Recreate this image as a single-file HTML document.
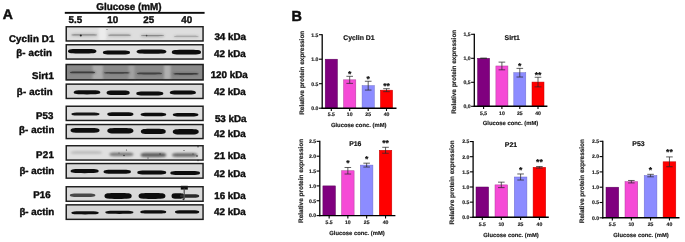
<!DOCTYPE html>
<html><head><meta charset="utf-8"><style>
html,body{margin:0;padding:0;background:#fff;}
svg{display:block;font-family:"Liberation Sans", sans-serif;text-rendering:geometricPrecision;}
</style></head><body>
<svg width="685" height="242" viewBox="0 0 685 242">
<defs><filter id="gb" filterUnits="userSpaceOnUse" x="0" y="0" width="685" height="242"><feGaussianBlur stdDeviation="0.35"/></filter><filter id="b3" filterUnits="userSpaceOnUse" x="0" y="0" width="685" height="242"><feGaussianBlur stdDeviation="0.3"/></filter><filter id="b4" filterUnits="userSpaceOnUse" x="0" y="0" width="685" height="242"><feGaussianBlur stdDeviation="0.4"/></filter><filter id="b5" filterUnits="userSpaceOnUse" x="0" y="0" width="685" height="242"><feGaussianBlur stdDeviation="0.5"/></filter><filter id="b6" filterUnits="userSpaceOnUse" x="0" y="0" width="685" height="242"><feGaussianBlur stdDeviation="0.6"/></filter><filter id="b7" filterUnits="userSpaceOnUse" x="0" y="0" width="685" height="242"><feGaussianBlur stdDeviation="0.7"/></filter><filter id="b8" filterUnits="userSpaceOnUse" x="0" y="0" width="685" height="242"><feGaussianBlur stdDeviation="0.8"/></filter><filter id="b9" filterUnits="userSpaceOnUse" x="0" y="0" width="685" height="242"><feGaussianBlur stdDeviation="0.9"/></filter><filter id="b10" filterUnits="userSpaceOnUse" x="0" y="0" width="685" height="242"><feGaussianBlur stdDeviation="1.0"/></filter></defs>
<rect width="685" height="242" fill="#fff"/>
<g filter="url(#gb)">
<text x="2.80" y="19.20" font-size="14.0" text-anchor="start" font-weight="bold" fill="#111"  stroke="#111" stroke-width="0.5">A</text>
<text x="129.00" y="9.60" font-size="9.9" text-anchor="middle" font-weight="bold" fill="#111"  stroke="#111" stroke-width="0.4">Glucose (mM)</text>
<rect x="64.8" y="11.9" width="139.8" height="1.9" fill="#111"/>
<text x="75.30" y="23.20" font-size="9.8" text-anchor="middle" font-weight="bold" fill="#111"  stroke="#111" stroke-width="0.4">5.5</text>
<text x="112.80" y="23.20" font-size="9.8" text-anchor="middle" font-weight="bold" fill="#111"  stroke="#111" stroke-width="0.4">10</text>
<text x="148.70" y="23.20" font-size="9.8" text-anchor="middle" font-weight="bold" fill="#111"  stroke="#111" stroke-width="0.4">25</text>
<text x="186.70" y="23.20" font-size="9.8" text-anchor="middle" font-weight="bold" fill="#111"  stroke="#111" stroke-width="0.4">40</text>
<rect x="65.50" y="26.00" width="138.30" height="15.70" fill="#dedede"/>
<rect x="98.70" y="27.00" width="7.30" height="13.70" fill="#ececec" filter="url(#b8)"/>
<path d="M70.80,35.00 C70.80,33.30 74.02,33.30 84.20,33.30 C94.38,33.30 97.60,33.30 97.60,35.00 C97.60,36.70 94.38,36.70 84.20,36.70 C74.02,36.70 70.80,36.70 70.80,35.00 Z" fill="#c0c0c0" filter="url(#b10)"/>
<path d="M107.60,35.30 C107.60,33.60 110.44,33.60 119.45,33.60 C128.46,33.60 131.30,33.60 131.30,35.30 C131.30,37.00 128.46,37.00 119.45,37.00 C110.44,37.00 107.60,37.00 107.60,35.30 Z" fill="#c2c2c2" filter="url(#b10)"/>
<path d="M140.30,35.70 C140.30,33.90 143.20,33.90 152.40,33.90 C161.60,33.90 164.50,33.90 164.50,35.70 C164.50,37.50 161.60,37.50 152.40,37.50 C143.20,37.50 140.30,37.50 140.30,35.70 Z" fill="#bcbcbc" filter="url(#b10)"/>
<path d="M173.40,36.40 C173.40,34.70 176.50,34.70 186.30,34.70 C196.10,34.70 199.20,34.70 199.20,36.40 C199.20,38.10 196.10,38.10 186.30,38.10 C176.50,38.10 173.40,38.10 173.40,36.40 Z" fill="#c8c8c8" filter="url(#b10)"/>
<path d="M71.50,34.90 C71.50,34.30 74.56,34.30 84.25,34.30 C93.94,34.30 97.00,34.30 97.00,34.90 C97.00,35.50 93.94,35.50 84.25,35.50 C74.56,35.50 71.50,35.50 71.50,34.90 Z" fill="#8c8c8c" filter="url(#b5)"/>
<path d="M108.20,35.20 C108.20,34.60 110.91,34.60 119.50,34.60 C128.09,34.60 130.80,34.60 130.80,35.20 C130.80,35.80 128.09,35.80 119.50,35.80 C110.91,35.80 108.20,35.80 108.20,35.20 Z" fill="#909090" filter="url(#b5)"/>
<path d="M141.00,35.60 C141.00,34.95 143.76,34.95 152.50,34.95 C161.24,34.95 164.00,34.95 164.00,35.60 C164.00,36.25 161.24,36.25 152.50,36.25 C143.76,36.25 141.00,36.25 141.00,35.60 Z" fill="#8a8a8a" filter="url(#b5)"/>
<path d="M174.00,36.30 C174.00,35.75 176.94,35.75 186.25,35.75 C195.56,35.75 198.50,35.75 198.50,36.30 C198.50,36.85 195.56,36.85 186.25,36.85 C176.94,36.85 174.00,36.85 174.00,36.30 Z" fill="#a0a0a0" filter="url(#b5)"/>
<circle cx="80.8" cy="35.5" r="1.0" fill="#222" filter="url(#b4)"/>
<circle cx="146.6" cy="35.6" r="0.8" fill="#444" filter="url(#b4)"/>
<circle cx="107.0" cy="29.5" r="0.6" fill="#666" filter="url(#b4)"/>
<rect x="66.25" y="26.75" width="136.80" height="14.20" fill="none" stroke="#1e1e1e" stroke-width="1.45" filter="url(#b3)"/>
<text x="8.90" y="41.70" font-size="9.7" text-anchor="start" font-weight="bold" fill="#0a0a0a" textLength="45.50" lengthAdjust="spacing" stroke="#0a0a0a" stroke-width="0.4">Cyclin D1</text>
<text x="230.20" y="39.70" font-size="9.8" text-anchor="middle" font-weight="bold" fill="#0a0a0a"  stroke="#0a0a0a" stroke-width="0.4">34 kDa</text>
<rect x="65.50" y="44.00" width="138.30" height="15.80" fill="#e0e0e0"/>
<path d="M68.00,51.30 C68.00,49.10 71.41,49.10 82.20,49.10 C92.99,49.10 96.40,49.10 96.40,51.30 C96.40,53.50 92.99,53.50 82.20,53.50 C71.41,53.50 68.00,53.50 68.00,51.30 Z" fill="#0d0d0d" filter="url(#b4)"/>
<path d="M102.90,52.50 C102.90,50.50 106.15,50.50 116.45,50.50 C126.75,50.50 130.00,50.50 130.00,52.50 C130.00,54.50 126.75,54.50 116.45,54.50 C106.15,54.50 102.90,54.50 102.90,52.50 Z" fill="#0d0d0d" filter="url(#b4)"/>
<path d="M136.60,51.60 C136.60,49.40 140.18,49.40 151.50,49.40 C162.82,49.40 166.40,49.40 166.40,51.60 C166.40,53.80 162.82,53.80 151.50,53.80 C140.18,53.80 136.60,53.80 136.60,51.60 Z" fill="#0d0d0d" filter="url(#b4)"/>
<path d="M171.80,52.20 C171.80,49.80 175.30,49.80 186.40,49.80 C197.50,49.80 201.00,49.80 201.00,52.20 C201.00,54.60 197.50,54.60 186.40,54.60 C175.30,54.60 171.80,54.60 171.80,52.20 Z" fill="#0d0d0d" filter="url(#b4)"/>
<rect x="66.25" y="44.75" width="136.80" height="14.30" fill="none" stroke="#1e1e1e" stroke-width="1.45" filter="url(#b3)"/>
<text x="16.20" y="55.90" font-size="9.7" text-anchor="start" font-weight="bold" fill="#0a0a0a" textLength="35.80" lengthAdjust="spacing" stroke="#0a0a0a" stroke-width="0.4">β- actin</text>
<text x="229.90" y="57.40" font-size="9.8" text-anchor="middle" font-weight="bold" fill="#0a0a0a"  stroke="#0a0a0a" stroke-width="0.4">42 kDa</text>
<rect x="65.50" y="63.80" width="138.30" height="16.80" fill="#8a8a8a"/>
<rect x="92.50" y="64.80" width="10.50" height="14.80" fill="#acacac" filter="url(#b8)"/>
<rect x="128.50" y="64.80" width="6.00" height="14.80" fill="#a2a2a2" filter="url(#b8)"/>
<rect x="164.00" y="64.80" width="6.70" height="14.80" fill="#b0b0b0" filter="url(#b8)"/>
<path d="M68.50,72.40 C68.50,70.70 71.80,70.70 82.25,70.70 C92.70,70.70 96.00,70.70 96.00,72.40 C96.00,74.10 92.70,74.10 82.25,74.10 C71.80,74.10 68.50,74.10 68.50,72.40 Z" fill="#7a7a7a" filter="url(#b9)"/>
<path d="M102.50,72.80 C102.50,71.10 105.86,71.10 116.50,71.10 C127.14,71.10 130.50,71.10 130.50,72.80 C130.50,74.50 127.14,74.50 116.50,74.50 C105.86,74.50 102.50,74.50 102.50,72.80 Z" fill="#7e7e7e" filter="url(#b9)"/>
<path d="M135.80,73.50 C135.80,71.80 139.04,71.80 149.30,71.80 C159.56,71.80 162.80,71.80 162.80,73.50 C162.80,75.20 159.56,75.20 149.30,75.20 C139.04,75.20 135.80,75.20 135.80,73.50 Z" fill="#7c7c7c" filter="url(#b9)"/>
<path d="M172.00,73.80 C172.00,72.10 175.24,72.10 185.50,72.10 C195.76,72.10 199.00,72.10 199.00,73.80 C199.00,75.50 195.76,75.50 185.50,75.50 C175.24,75.50 172.00,75.50 172.00,73.80 Z" fill="#767676" filter="url(#b9)"/>
<path d="M70.00,72.40 C70.00,71.50 73.00,71.50 82.50,71.50 C92.00,71.50 95.00,71.50 95.00,72.40 C95.00,73.30 92.00,73.30 82.50,73.30 C73.00,73.30 70.00,73.30 70.00,72.40 Z" fill="#3e3e3e" filter="url(#b6)"/>
<path d="M104.00,72.80 C104.00,71.90 107.06,71.90 116.75,71.90 C126.44,71.90 129.50,71.90 129.50,72.80 C129.50,73.70 126.44,73.70 116.75,73.70 C107.06,73.70 104.00,73.70 104.00,72.80 Z" fill="#444444" filter="url(#b6)"/>
<path d="M137.00,73.50 C137.00,72.60 140.00,72.60 149.50,72.60 C159.00,72.60 162.00,72.60 162.00,73.50 C162.00,74.40 159.00,74.40 149.50,74.40 C140.00,74.40 137.00,74.40 137.00,73.50 Z" fill="#424242" filter="url(#b6)"/>
<path d="M173.50,73.80 C173.50,72.90 176.50,72.90 186.00,72.90 C195.50,72.90 198.50,72.90 198.50,73.80 C198.50,74.70 195.50,74.70 186.00,74.70 C176.50,74.70 173.50,74.70 173.50,73.80 Z" fill="#3a3a3a" filter="url(#b6)"/>
<rect x="66.25" y="64.55" width="136.80" height="15.30" fill="none" stroke="#1e1e1e" stroke-width="1.45" filter="url(#b3)"/>
<text x="32.00" y="79.00" font-size="9.7" text-anchor="start" font-weight="bold" fill="#0a0a0a" textLength="21.80" lengthAdjust="spacing" stroke="#0a0a0a" stroke-width="0.4">Sirt1</text>
<text x="229.20" y="77.60" font-size="9.8" text-anchor="middle" font-weight="bold" fill="#0a0a0a"  stroke="#0a0a0a" stroke-width="0.4">120 kDa</text>
<rect x="65.50" y="83.40" width="138.30" height="15.80" fill="#d9d9d9"/>
<path d="M73.70,92.30 C73.70,90.20 76.89,90.20 87.00,90.20 C97.11,90.20 100.30,90.20 100.30,92.30 C100.30,94.40 97.11,94.40 87.00,94.40 C76.89,94.40 73.70,94.40 73.70,92.30 Z" fill="#0d0d0d" filter="url(#b4)"/>
<path d="M106.60,92.70 C106.60,90.40 109.37,90.40 118.15,90.40 C126.93,90.40 129.70,90.40 129.70,92.70 C129.70,95.00 126.93,95.00 118.15,95.00 C109.37,95.00 106.60,95.00 106.60,92.70 Z" fill="#0d0d0d" filter="url(#b4)"/>
<path d="M136.30,93.50 C136.30,91.50 139.54,91.50 149.80,91.50 C160.06,91.50 163.30,91.50 163.30,93.50 C163.30,95.50 160.06,95.50 149.80,95.50 C139.54,95.50 136.30,95.50 136.30,93.50 Z" fill="#0d0d0d" filter="url(#b4)"/>
<path d="M169.80,92.50 C169.80,90.40 172.93,90.40 182.85,90.40 C192.77,90.40 195.90,90.40 195.90,92.50 C195.90,94.60 192.77,94.60 182.85,94.60 C172.93,94.60 169.80,94.60 169.80,92.50 Z" fill="#0d0d0d" filter="url(#b4)"/>
<rect x="66.25" y="84.15" width="136.80" height="14.30" fill="none" stroke="#1e1e1e" stroke-width="1.45" filter="url(#b3)"/>
<text x="16.80" y="95.30" font-size="9.7" text-anchor="start" font-weight="bold" fill="#0a0a0a" textLength="35.90" lengthAdjust="spacing" stroke="#0a0a0a" stroke-width="0.4">β- actin</text>
<text x="229.90" y="94.60" font-size="9.8" text-anchor="middle" font-weight="bold" fill="#0a0a0a"  stroke="#0a0a0a" stroke-width="0.4">42 kDa</text>
<rect x="65.50" y="105.50" width="138.30" height="15.70" fill="#dfdfdf"/>
<path d="M71.40,114.00 C71.40,112.40 74.77,112.40 85.45,112.40 C96.13,112.40 99.50,112.40 99.50,114.00 C99.50,115.60 96.13,115.60 85.45,115.60 C74.77,115.60 71.40,115.60 71.40,114.00 Z" fill="#151515" filter="url(#b4)"/>
<path d="M107.30,114.20 C107.30,112.30 110.43,112.30 120.35,112.30 C130.27,112.30 133.40,112.30 133.40,114.20 C133.40,116.10 130.27,116.10 120.35,116.10 C110.43,116.10 107.30,116.10 107.30,114.20 Z" fill="#0d0d0d" filter="url(#b4)"/>
<path d="M140.60,114.50 C140.60,112.75 143.67,112.75 153.40,112.75 C163.13,112.75 166.20,112.75 166.20,114.50 C166.20,116.25 163.13,116.25 153.40,116.25 C143.67,116.25 140.60,116.25 140.60,114.50 Z" fill="#0d0d0d" filter="url(#b4)"/>
<path d="M172.80,114.70 C172.80,112.90 175.87,112.90 185.60,112.90 C195.33,112.90 198.40,112.90 198.40,114.70 C198.40,116.50 195.33,116.50 185.60,116.50 C175.87,116.50 172.80,116.50 172.80,114.70 Z" fill="#0d0d0d" filter="url(#b4)"/>
<rect x="66.25" y="106.25" width="136.80" height="14.20" fill="none" stroke="#1e1e1e" stroke-width="1.45" filter="url(#b3)"/>
<text x="36.00" y="119.00" font-size="9.7" text-anchor="start" font-weight="bold" fill="#0a0a0a" textLength="17.40" lengthAdjust="spacing" stroke="#0a0a0a" stroke-width="0.4">P53</text>
<text x="230.70" y="121.90" font-size="9.8" text-anchor="middle" font-weight="bold" fill="#0a0a0a"  stroke="#0a0a0a" stroke-width="0.4">53 kDa</text>
<rect x="65.50" y="123.80" width="138.30" height="15.50" fill="#d8d8d8"/>
<path d="M70.60,130.40 C70.60,128.10 74.07,128.10 85.05,128.10 C96.03,128.10 99.50,128.10 99.50,130.40 C99.50,132.70 96.03,132.70 85.05,132.70 C74.07,132.70 70.60,132.70 70.60,130.40 Z" fill="#0d0d0d" filter="url(#b4)"/>
<path d="M107.30,130.70 C107.30,127.90 110.43,127.90 120.35,127.90 C130.27,127.90 133.40,127.90 133.40,130.70 C133.40,133.50 130.27,133.50 120.35,133.50 C110.43,133.50 107.30,133.50 107.30,130.70 Z" fill="#0d0d0d" filter="url(#b4)"/>
<path d="M140.90,131.40 C140.90,128.70 143.88,128.70 153.30,128.70 C162.72,128.70 165.70,128.70 165.70,131.40 C165.70,134.10 162.72,134.10 153.30,134.10 C143.88,134.10 140.90,134.10 140.90,131.40 Z" fill="#0d0d0d" filter="url(#b4)"/>
<path d="M172.80,131.80 C172.80,129.00 175.91,129.00 185.75,129.00 C195.59,129.00 198.70,129.00 198.70,131.80 C198.70,134.60 195.59,134.60 185.75,134.60 C175.91,134.60 172.80,134.60 172.80,131.80 Z" fill="#0d0d0d" filter="url(#b4)"/>
<rect x="66.25" y="124.55" width="136.80" height="14.00" fill="none" stroke="#1e1e1e" stroke-width="1.45" filter="url(#b3)"/>
<text x="19.00" y="132.60" font-size="9.7" text-anchor="start" font-weight="bold" fill="#0a0a0a" textLength="35.30" lengthAdjust="spacing" stroke="#0a0a0a" stroke-width="0.4">β- actin</text>
<text x="229.90" y="136.60" font-size="9.8" text-anchor="middle" font-weight="bold" fill="#0a0a0a"  stroke="#0a0a0a" stroke-width="0.4">42 kDa</text>
<rect x="65.50" y="145.00" width="138.30" height="15.80" fill="#e0e0e0"/>
<path d="M70.60,152.50 C70.60,150.90 74.37,150.90 86.30,150.90 C98.23,150.90 102.00,150.90 102.00,152.50 C102.00,154.10 98.23,154.10 86.30,154.10 C74.37,154.10 70.60,154.10 70.60,152.50 Z" fill="#bdbdbd" filter="url(#b9)"/>
<path d="M109.40,154.40 C109.40,152.60 112.28,152.60 121.40,152.60 C130.52,152.60 133.40,152.60 133.40,154.40 C133.40,156.20 130.52,156.20 121.40,156.20 C112.28,156.20 109.40,156.20 109.40,154.40 Z" fill="#7c7c7c" filter="url(#b8)"/>
<path d="M140.60,155.00 C140.60,152.80 143.67,152.80 153.40,152.80 C163.13,152.80 166.20,152.80 166.20,155.00 C166.20,157.20 163.13,157.20 153.40,157.20 C143.67,157.20 140.60,157.20 140.60,155.00 Z" fill="#646464" filter="url(#b8)"/>
<path d="M172.00,155.00 C172.00,152.90 175.06,152.90 184.75,152.90 C194.44,152.90 197.50,152.90 197.50,155.00 C197.50,157.10 194.44,157.10 184.75,157.10 C175.06,157.10 172.00,157.10 172.00,155.00 Z" fill="#6e6e6e" filter="url(#b8)"/>
<circle cx="124.0" cy="155.5" r="0.8" fill="#333" filter="url(#b4)"/>
<circle cx="126.5" cy="150.0" r="0.6" fill="#444" filter="url(#b4)"/>
<circle cx="119.0" cy="153.0" r="0.6" fill="#444" filter="url(#b4)"/>
<circle cx="160.0" cy="154.0" r="0.7" fill="#333" filter="url(#b4)"/>
<circle cx="197.0" cy="156.0" r="0.8" fill="#222" filter="url(#b4)"/>
<circle cx="184.0" cy="150.5" r="0.6" fill="#444" filter="url(#b4)"/>
<circle cx="193.0" cy="154.0" r="0.6" fill="#333" filter="url(#b4)"/>
<circle cx="148.0" cy="158.0" r="0.6" fill="#333" filter="url(#b4)"/>
<circle cx="198.0" cy="146.8" r="0.7" fill="#333" filter="url(#b4)"/>
<circle cx="198.0" cy="160.5" r="0.7" fill="#333" filter="url(#b4)"/>
<rect x="66.25" y="145.75" width="136.80" height="14.30" fill="none" stroke="#1e1e1e" stroke-width="1.45" filter="url(#b3)"/>
<text x="36.00" y="158.00" font-size="9.7" text-anchor="start" font-weight="bold" fill="#0a0a0a" textLength="17.80" lengthAdjust="spacing" stroke="#0a0a0a" stroke-width="0.4">P21</text>
<text x="230.00" y="158.50" font-size="9.8" text-anchor="middle" font-weight="bold" fill="#0a0a0a"  stroke="#0a0a0a" stroke-width="0.4">21 kDa</text>
<rect x="65.50" y="162.80" width="138.30" height="16.10" fill="#d9d9d9"/>
<path d="M70.60,171.10 C70.60,169.00 73.97,169.00 84.65,169.00 C95.33,169.00 98.70,169.00 98.70,171.10 C98.70,173.20 95.33,173.20 84.65,173.20 C73.97,173.20 70.60,173.20 70.60,171.10 Z" fill="#0d0d0d" filter="url(#b4)"/>
<path d="M103.60,171.70 C103.60,169.70 106.88,169.70 117.25,169.70 C127.62,169.70 130.90,169.70 130.90,171.70 C130.90,173.70 127.62,173.70 117.25,173.70 C106.88,173.70 103.60,173.70 103.60,171.70 Z" fill="#0d0d0d" filter="url(#b4)"/>
<path d="M137.30,172.50 C137.30,170.50 140.77,170.50 151.75,170.50 C162.73,170.50 166.20,170.50 166.20,172.50 C166.20,174.50 162.73,174.50 151.75,174.50 C140.77,174.50 137.30,174.50 137.30,172.50 Z" fill="#0d0d0d" filter="url(#b4)"/>
<path d="M170.30,173.00 C170.30,171.00 173.86,171.00 185.15,171.00 C196.44,171.00 200.00,171.00 200.00,173.00 C200.00,175.00 196.44,175.00 185.15,175.00 C173.86,175.00 170.30,175.00 170.30,173.00 Z" fill="#0d0d0d" filter="url(#b4)"/>
<rect x="66.25" y="163.55" width="136.80" height="14.60" fill="none" stroke="#1e1e1e" stroke-width="1.45" filter="url(#b3)"/>
<text x="19.40" y="174.40" font-size="9.7" text-anchor="start" font-weight="bold" fill="#0a0a0a" textLength="34.70" lengthAdjust="spacing" stroke="#0a0a0a" stroke-width="0.4">β- actin</text>
<text x="229.90" y="176.60" font-size="9.8" text-anchor="middle" font-weight="bold" fill="#0a0a0a"  stroke="#0a0a0a" stroke-width="0.4">42 kDa</text>
<rect x="65.50" y="186.00" width="138.30" height="16.00" fill="#dadada"/>
<path d="M69.80,195.30 C69.80,193.50 72.87,193.50 82.60,193.50 C92.33,193.50 95.40,193.50 95.40,195.30 C95.40,197.10 92.33,197.10 82.60,197.10 C72.87,197.10 69.80,197.10 69.80,195.30 Z" fill="#4a4a4a" filter="url(#b6)"/>
<path d="M104.50,196.00 C104.50,193.10 107.76,193.10 118.10,193.10 C128.44,193.10 131.70,193.10 131.70,196.00 C131.70,198.90 128.44,198.90 118.10,198.90 C107.76,198.90 104.50,198.90 104.50,196.00 Z" fill="#0d0d0d" filter="url(#b4)"/>
<path d="M138.60,196.00 C138.60,193.10 141.82,193.10 152.00,193.10 C162.18,193.10 165.40,193.10 165.40,196.00 C165.40,198.90 162.18,198.90 152.00,198.90 C141.82,198.90 138.60,198.90 138.60,196.00 Z" fill="#0d0d0d" filter="url(#b4)"/>
<path d="M171.60,196.00 C171.60,193.30 173.09,193.30 177.80,193.30 C182.51,193.30 184.00,193.30 184.00,196.00 C184.00,198.70 182.51,198.70 177.80,198.70 C173.09,198.70 171.60,198.70 171.60,196.00 Z" fill="#0d0d0d" filter="url(#b4)"/>
<path d="M180.00,196.00 C180.00,194.20 182.30,194.20 189.60,194.20 C196.90,194.20 199.20,194.20 199.20,196.00 C199.20,197.80 196.90,197.80 189.60,197.80 C182.30,197.80 180.00,197.80 180.00,196.00 Z" fill="#2a2a2a" filter="url(#b6)"/>
<rect x="180.8" y="185.8" width="7.0" height="3.8" fill="#0d0d0d" filter="url(#b5)"/>
<rect x="183.6" y="188.5" width="1.2" height="10.5" fill="#555" filter="url(#b5)"/>
<circle cx="183.5" cy="199.3" r="1.0" fill="#333" filter="url(#b4)"/>
<rect x="66.25" y="186.75" width="136.80" height="14.50" fill="none" stroke="#1e1e1e" stroke-width="1.45" filter="url(#b3)"/>
<text x="33.30" y="197.80" font-size="9.7" text-anchor="start" font-weight="bold" fill="#0a0a0a" textLength="17.40" lengthAdjust="spacing" stroke="#0a0a0a" stroke-width="0.4">P16</text>
<text x="230.00" y="199.20" font-size="9.8" text-anchor="middle" font-weight="bold" fill="#0a0a0a"  stroke="#0a0a0a" stroke-width="0.4">16 kDa</text>
<rect x="65.50" y="204.10" width="138.30" height="16.00" fill="#d6d6d6"/>
<path d="M71.40,212.80 C71.40,211.20 74.68,211.20 85.05,211.20 C95.42,211.20 98.70,211.20 98.70,212.80 C98.70,214.40 95.42,214.40 85.05,214.40 C74.68,214.40 71.40,214.40 71.40,212.80 Z" fill="#0d0d0d" filter="url(#b5)"/>
<path d="M105.30,212.30 C105.30,210.70 108.67,210.70 119.35,210.70 C130.03,210.70 133.40,210.70 133.40,212.30 C133.40,213.90 130.03,213.90 119.35,213.90 C108.67,213.90 105.30,213.90 105.30,212.30 Z" fill="#0d0d0d" filter="url(#b5)"/>
<path d="M140.30,211.90 C140.30,210.35 143.41,210.35 153.25,210.35 C163.09,210.35 166.20,210.35 166.20,211.90 C166.20,213.45 163.09,213.45 153.25,213.45 C143.41,213.45 140.30,213.45 140.30,211.90 Z" fill="#0d0d0d" filter="url(#b5)"/>
<path d="M175.00,211.90 C175.00,210.30 177.90,210.30 187.10,210.30 C196.30,210.30 199.20,210.30 199.20,211.90 C199.20,213.50 196.30,213.50 187.10,213.50 C177.90,213.50 175.00,213.50 175.00,211.90 Z" fill="#0d0d0d" filter="url(#b5)"/>
<rect x="66.25" y="204.85" width="136.80" height="14.50" fill="none" stroke="#1e1e1e" stroke-width="1.45" filter="url(#b3)"/>
<text x="19.40" y="214.60" font-size="9.7" text-anchor="start" font-weight="bold" fill="#0a0a0a" textLength="34.70" lengthAdjust="spacing" stroke="#0a0a0a" stroke-width="0.4">β- actin</text>
<text x="229.90" y="214.70" font-size="9.8" text-anchor="middle" font-weight="bold" fill="#0a0a0a"  stroke="#0a0a0a" stroke-width="0.4">42 kDa</text>
<text x="291.40" y="21.30" font-size="14.4" text-anchor="start" font-weight="bold" fill="#111"  stroke="#111" stroke-width="0.5">B</text>
<line x1="322.20" y1="34.20" x2="322.20" y2="108.90" stroke="#000" stroke-width="1.3"/>
<line x1="319.00" y1="108.20" x2="322.20" y2="108.20" stroke="#000" stroke-width="1.1"/>
<text x="318.40" y="110.00" font-size="5.1" text-anchor="end" font-weight="bold" fill="#222"  stroke="#222" stroke-width="0.18">0.0</text>
<line x1="319.00" y1="83.70" x2="322.20" y2="83.70" stroke="#000" stroke-width="1.1"/>
<text x="318.40" y="85.50" font-size="5.1" text-anchor="end" font-weight="bold" fill="#222"  stroke="#222" stroke-width="0.18">0.5</text>
<line x1="319.00" y1="59.20" x2="322.20" y2="59.20" stroke="#000" stroke-width="1.1"/>
<text x="318.40" y="61.00" font-size="5.1" text-anchor="end" font-weight="bold" fill="#222"  stroke="#222" stroke-width="0.18">1.0</text>
<line x1="319.00" y1="34.70" x2="322.20" y2="34.70" stroke="#000" stroke-width="1.1"/>
<text x="318.40" y="36.50" font-size="5.1" text-anchor="end" font-weight="bold" fill="#222"  stroke="#222" stroke-width="0.18">1.5</text>
<rect x="325.20" y="59.20" width="12.20" height="49.00" fill="#80007f" stroke="#5a0058" stroke-width="0.5"/>
<line x1="331.30" y1="108.20" x2="331.30" y2="111.00" stroke="#000" stroke-width="1.1"/>
<text x="331.30" y="116.40" font-size="5.1" text-anchor="middle" font-weight="bold" fill="#222"  stroke="#222" stroke-width="0.18">5.5</text>
<rect x="343.60" y="79.83" width="12.20" height="28.37" fill="#f54cd6" stroke="#b03a9a" stroke-width="0.5"/>
<line x1="349.70" y1="76.30" x2="349.70" y2="83.36" stroke="#2a2a2a" stroke-width="0.75"/>
<line x1="346.40" y1="76.30" x2="353.00" y2="76.30" stroke="#2a2a2a" stroke-width="0.75"/>
<line x1="346.40" y1="83.36" x2="353.00" y2="83.36" stroke="#2a2a2a" stroke-width="0.75"/>
<text x="349.70" y="76.70" font-size="8.6" text-anchor="middle" font-weight="bold" fill="#111"  stroke="#111" stroke-width="0.18">*</text>
<line x1="349.70" y1="108.20" x2="349.70" y2="111.00" stroke="#000" stroke-width="1.1"/>
<text x="349.70" y="116.40" font-size="5.1" text-anchor="middle" font-weight="bold" fill="#222"  stroke="#222" stroke-width="0.18">10</text>
<rect x="362.10" y="85.66" width="12.20" height="22.54" fill="#8c8cff" stroke="#6a6acc" stroke-width="0.5"/>
<line x1="368.20" y1="81.25" x2="368.20" y2="90.07" stroke="#2a2a2a" stroke-width="0.75"/>
<line x1="364.90" y1="81.25" x2="371.50" y2="81.25" stroke="#2a2a2a" stroke-width="0.75"/>
<line x1="364.90" y1="90.07" x2="371.50" y2="90.07" stroke="#2a2a2a" stroke-width="0.75"/>
<text x="368.20" y="81.65" font-size="8.6" text-anchor="middle" font-weight="bold" fill="#111"  stroke="#111" stroke-width="0.18">*</text>
<line x1="368.20" y1="108.20" x2="368.20" y2="111.00" stroke="#000" stroke-width="1.1"/>
<text x="368.20" y="116.40" font-size="5.1" text-anchor="middle" font-weight="bold" fill="#222"  stroke="#222" stroke-width="0.18">25</text>
<rect x="380.40" y="90.17" width="12.20" height="18.03" fill="#ff0000" stroke="#c00000" stroke-width="0.5"/>
<line x1="386.50" y1="88.70" x2="386.50" y2="91.64" stroke="#2a2a2a" stroke-width="0.75"/>
<line x1="383.20" y1="88.70" x2="389.80" y2="88.70" stroke="#2a2a2a" stroke-width="0.75"/>
<line x1="383.20" y1="91.64" x2="389.80" y2="91.64" stroke="#2a2a2a" stroke-width="0.75"/>
<text x="386.50" y="89.10" font-size="8.6" text-anchor="middle" font-weight="bold" fill="#111"  stroke="#111" stroke-width="0.18">**</text>
<line x1="386.50" y1="108.20" x2="386.50" y2="111.00" stroke="#000" stroke-width="1.1"/>
<text x="386.50" y="116.40" font-size="5.1" text-anchor="middle" font-weight="bold" fill="#222"  stroke="#222" stroke-width="0.18">40</text>
<line x1="321.60" y1="108.20" x2="396.50" y2="108.20" stroke="#000" stroke-width="1.4"/>
<text x="358.90" y="40.20" font-size="6.9" text-anchor="middle" font-weight="bold" fill="#111"  stroke="#111" stroke-width="0.18">Cyclin D1</text>
<text x="358.70" y="127.20" font-size="5.85" text-anchor="middle" font-weight="bold" fill="#222"  stroke="#222" stroke-width="0.18">Glucose conc. (mM)</text>
<text x="0" y="0" font-size="6.45" font-weight="bold" fill="#222" stroke="#222" stroke-width="0.18" text-anchor="middle" transform="translate(304.00,72.80) rotate(-90)">Relative protein expression</text>
<line x1="474.30" y1="33.80" x2="474.30" y2="107.00" stroke="#000" stroke-width="1.3"/>
<line x1="471.10" y1="106.30" x2="474.30" y2="106.30" stroke="#000" stroke-width="1.1"/>
<text x="470.50" y="108.10" font-size="5.1" text-anchor="end" font-weight="bold" fill="#222"  stroke="#222" stroke-width="0.18">0,0</text>
<line x1="471.10" y1="82.30" x2="474.30" y2="82.30" stroke="#000" stroke-width="1.1"/>
<text x="470.50" y="84.10" font-size="5.1" text-anchor="end" font-weight="bold" fill="#222"  stroke="#222" stroke-width="0.18">0,5</text>
<line x1="471.10" y1="58.30" x2="474.30" y2="58.30" stroke="#000" stroke-width="1.1"/>
<text x="470.50" y="60.10" font-size="5.1" text-anchor="end" font-weight="bold" fill="#222"  stroke="#222" stroke-width="0.18">1,0</text>
<line x1="471.10" y1="34.30" x2="474.30" y2="34.30" stroke="#000" stroke-width="1.1"/>
<text x="470.50" y="36.10" font-size="5.1" text-anchor="end" font-weight="bold" fill="#222"  stroke="#222" stroke-width="0.18">1,5</text>
<rect x="477.60" y="58.30" width="12.00" height="48.00" fill="#80007f" stroke="#5a0058" stroke-width="0.5"/>
<line x1="483.60" y1="58.06" x2="483.60" y2="58.54" stroke="#2a2a2a" stroke-width="0.75"/>
<line x1="480.30" y1="58.06" x2="486.90" y2="58.06" stroke="#2a2a2a" stroke-width="0.75"/>
<line x1="480.30" y1="58.54" x2="486.90" y2="58.54" stroke="#2a2a2a" stroke-width="0.75"/>
<line x1="483.60" y1="106.30" x2="483.60" y2="109.10" stroke="#000" stroke-width="1.1"/>
<text x="483.60" y="114.60" font-size="5.1" text-anchor="middle" font-weight="bold" fill="#222"  stroke="#222" stroke-width="0.18">5,5</text>
<rect x="495.90" y="65.98" width="12.00" height="40.32" fill="#f54cd6" stroke="#b03a9a" stroke-width="0.5"/>
<line x1="501.90" y1="62.14" x2="501.90" y2="69.82" stroke="#2a2a2a" stroke-width="0.75"/>
<line x1="498.60" y1="62.14" x2="505.20" y2="62.14" stroke="#2a2a2a" stroke-width="0.75"/>
<line x1="498.60" y1="69.82" x2="505.20" y2="69.82" stroke="#2a2a2a" stroke-width="0.75"/>
<line x1="501.90" y1="106.30" x2="501.90" y2="109.10" stroke="#000" stroke-width="1.1"/>
<text x="501.90" y="114.60" font-size="5.1" text-anchor="middle" font-weight="bold" fill="#222"  stroke="#222" stroke-width="0.18">10</text>
<rect x="513.80" y="72.70" width="12.00" height="33.60" fill="#8c8cff" stroke="#6a6acc" stroke-width="0.5"/>
<line x1="519.80" y1="68.38" x2="519.80" y2="77.02" stroke="#2a2a2a" stroke-width="0.75"/>
<line x1="516.50" y1="68.38" x2="523.10" y2="68.38" stroke="#2a2a2a" stroke-width="0.75"/>
<line x1="516.50" y1="77.02" x2="523.10" y2="77.02" stroke="#2a2a2a" stroke-width="0.75"/>
<text x="519.80" y="68.78" font-size="8.6" text-anchor="middle" font-weight="bold" fill="#111"  stroke="#111" stroke-width="0.18">*</text>
<line x1="519.80" y1="106.30" x2="519.80" y2="109.10" stroke="#000" stroke-width="1.1"/>
<text x="519.80" y="114.60" font-size="5.1" text-anchor="middle" font-weight="bold" fill="#222"  stroke="#222" stroke-width="0.18">25</text>
<rect x="532.00" y="82.06" width="12.00" height="24.24" fill="#ff0000" stroke="#c00000" stroke-width="0.5"/>
<line x1="538.00" y1="77.26" x2="538.00" y2="86.86" stroke="#2a2a2a" stroke-width="0.75"/>
<line x1="534.70" y1="77.26" x2="541.30" y2="77.26" stroke="#2a2a2a" stroke-width="0.75"/>
<line x1="534.70" y1="86.86" x2="541.30" y2="86.86" stroke="#2a2a2a" stroke-width="0.75"/>
<text x="538.00" y="77.66" font-size="8.6" text-anchor="middle" font-weight="bold" fill="#111"  stroke="#111" stroke-width="0.18">**</text>
<line x1="538.00" y1="106.30" x2="538.00" y2="109.10" stroke="#000" stroke-width="1.1"/>
<text x="538.00" y="114.60" font-size="5.1" text-anchor="middle" font-weight="bold" fill="#222"  stroke="#222" stroke-width="0.18">40</text>
<line x1="473.70" y1="106.30" x2="547.40" y2="106.30" stroke="#000" stroke-width="1.4"/>
<text x="512.20" y="40.20" font-size="6.9" text-anchor="middle" font-weight="bold" fill="#111"  stroke="#111" stroke-width="0.18">Sirt1</text>
<text x="510.50" y="124.80" font-size="5.85" text-anchor="middle" font-weight="bold" fill="#222"  stroke="#222" stroke-width="0.18">Glucose conc. (mM)</text>
<text x="0" y="0" font-size="6.45" font-weight="bold" fill="#222" stroke="#222" stroke-width="0.18" text-anchor="middle" transform="translate(456.00,71.80) rotate(-90)">Relative protein expression</text>
<line x1="319.80" y1="140.85" x2="319.80" y2="216.30" stroke="#000" stroke-width="1.3"/>
<line x1="316.60" y1="215.60" x2="319.80" y2="215.60" stroke="#000" stroke-width="1.1"/>
<text x="316.00" y="217.40" font-size="5.1" text-anchor="end" font-weight="bold" fill="#222"  stroke="#222" stroke-width="0.18">0.0</text>
<line x1="316.60" y1="200.75" x2="319.80" y2="200.75" stroke="#000" stroke-width="1.1"/>
<text x="316.00" y="202.55" font-size="5.1" text-anchor="end" font-weight="bold" fill="#222"  stroke="#222" stroke-width="0.18">0.5</text>
<line x1="316.60" y1="185.90" x2="319.80" y2="185.90" stroke="#000" stroke-width="1.1"/>
<text x="316.00" y="187.70" font-size="5.1" text-anchor="end" font-weight="bold" fill="#222"  stroke="#222" stroke-width="0.18">1.0</text>
<line x1="316.60" y1="171.05" x2="319.80" y2="171.05" stroke="#000" stroke-width="1.1"/>
<text x="316.00" y="172.85" font-size="5.1" text-anchor="end" font-weight="bold" fill="#222"  stroke="#222" stroke-width="0.18">1.5</text>
<line x1="316.60" y1="156.20" x2="319.80" y2="156.20" stroke="#000" stroke-width="1.1"/>
<text x="316.00" y="158.00" font-size="5.1" text-anchor="end" font-weight="bold" fill="#222"  stroke="#222" stroke-width="0.18">2.0</text>
<line x1="316.60" y1="141.35" x2="319.80" y2="141.35" stroke="#000" stroke-width="1.1"/>
<text x="316.00" y="143.15" font-size="5.1" text-anchor="end" font-weight="bold" fill="#222"  stroke="#222" stroke-width="0.18">2.5</text>
<rect x="322.90" y="185.90" width="12.50" height="29.70" fill="#80007f" stroke="#5a0058" stroke-width="0.5"/>
<line x1="329.15" y1="215.60" x2="329.15" y2="218.40" stroke="#000" stroke-width="1.1"/>
<text x="329.15" y="223.80" font-size="5.1" text-anchor="middle" font-weight="bold" fill="#222"  stroke="#222" stroke-width="0.18">5.5</text>
<rect x="341.60" y="170.75" width="12.50" height="44.85" fill="#f54cd6" stroke="#b03a9a" stroke-width="0.5"/>
<line x1="347.85" y1="167.49" x2="347.85" y2="174.02" stroke="#2a2a2a" stroke-width="0.75"/>
<line x1="344.55" y1="167.49" x2="351.15" y2="167.49" stroke="#2a2a2a" stroke-width="0.75"/>
<line x1="344.55" y1="174.02" x2="351.15" y2="174.02" stroke="#2a2a2a" stroke-width="0.75"/>
<text x="347.85" y="166.39" font-size="8.6" text-anchor="middle" font-weight="bold" fill="#111"  stroke="#111" stroke-width="0.18">*</text>
<line x1="347.85" y1="215.60" x2="347.85" y2="218.40" stroke="#000" stroke-width="1.1"/>
<text x="347.85" y="223.80" font-size="5.1" text-anchor="middle" font-weight="bold" fill="#222"  stroke="#222" stroke-width="0.18">10</text>
<rect x="360.40" y="165.11" width="12.50" height="50.49" fill="#8c8cff" stroke="#6a6acc" stroke-width="0.5"/>
<line x1="366.65" y1="163.18" x2="366.65" y2="167.04" stroke="#2a2a2a" stroke-width="0.75"/>
<line x1="363.35" y1="163.18" x2="369.95" y2="163.18" stroke="#2a2a2a" stroke-width="0.75"/>
<line x1="363.35" y1="167.04" x2="369.95" y2="167.04" stroke="#2a2a2a" stroke-width="0.75"/>
<text x="366.65" y="162.08" font-size="8.6" text-anchor="middle" font-weight="bold" fill="#111"  stroke="#111" stroke-width="0.18">*</text>
<line x1="366.65" y1="215.60" x2="366.65" y2="218.40" stroke="#000" stroke-width="1.1"/>
<text x="366.65" y="223.80" font-size="5.1" text-anchor="middle" font-weight="bold" fill="#222"  stroke="#222" stroke-width="0.18">25</text>
<rect x="379.30" y="150.26" width="12.50" height="65.34" fill="#ff0000" stroke="#c00000" stroke-width="0.5"/>
<line x1="385.55" y1="147.29" x2="385.55" y2="153.23" stroke="#2a2a2a" stroke-width="0.75"/>
<line x1="382.25" y1="147.29" x2="388.85" y2="147.29" stroke="#2a2a2a" stroke-width="0.75"/>
<line x1="382.25" y1="153.23" x2="388.85" y2="153.23" stroke="#2a2a2a" stroke-width="0.75"/>
<text x="385.55" y="146.19" font-size="8.6" text-anchor="middle" font-weight="bold" fill="#111"  stroke="#111" stroke-width="0.18">**</text>
<line x1="385.55" y1="215.60" x2="385.55" y2="218.40" stroke="#000" stroke-width="1.1"/>
<text x="385.55" y="223.80" font-size="5.1" text-anchor="middle" font-weight="bold" fill="#222"  stroke="#222" stroke-width="0.18">40</text>
<line x1="319.20" y1="215.60" x2="395.40" y2="215.60" stroke="#000" stroke-width="1.4"/>
<text x="355.30" y="146.40" font-size="6.9" text-anchor="middle" font-weight="bold" fill="#111"  stroke="#111" stroke-width="0.18">P16</text>
<text x="357.00" y="235.30" font-size="5.85" text-anchor="middle" font-weight="bold" fill="#222"  stroke="#222" stroke-width="0.18">Glucose conc. (mM)</text>
<text x="0" y="0" font-size="6.45" font-weight="bold" fill="#222" stroke="#222" stroke-width="0.18" text-anchor="middle" transform="translate(303.00,180.90) rotate(-90)">Relative protein expression</text>
<line x1="473.10" y1="141.05" x2="473.10" y2="218.00" stroke="#000" stroke-width="1.3"/>
<line x1="469.90" y1="217.30" x2="473.10" y2="217.30" stroke="#000" stroke-width="1.1"/>
<text x="469.30" y="219.10" font-size="5.1" text-anchor="end" font-weight="bold" fill="#222"  stroke="#222" stroke-width="0.18">0.0</text>
<line x1="469.90" y1="202.15" x2="473.10" y2="202.15" stroke="#000" stroke-width="1.1"/>
<text x="469.30" y="203.95" font-size="5.1" text-anchor="end" font-weight="bold" fill="#222"  stroke="#222" stroke-width="0.18">0.5</text>
<line x1="469.90" y1="187.00" x2="473.10" y2="187.00" stroke="#000" stroke-width="1.1"/>
<text x="469.30" y="188.80" font-size="5.1" text-anchor="end" font-weight="bold" fill="#222"  stroke="#222" stroke-width="0.18">1.0</text>
<line x1="469.90" y1="171.85" x2="473.10" y2="171.85" stroke="#000" stroke-width="1.1"/>
<text x="469.30" y="173.65" font-size="5.1" text-anchor="end" font-weight="bold" fill="#222"  stroke="#222" stroke-width="0.18">1.5</text>
<line x1="469.90" y1="156.70" x2="473.10" y2="156.70" stroke="#000" stroke-width="1.1"/>
<text x="469.30" y="158.50" font-size="5.1" text-anchor="end" font-weight="bold" fill="#222"  stroke="#222" stroke-width="0.18">2.0</text>
<line x1="469.90" y1="141.55" x2="473.10" y2="141.55" stroke="#000" stroke-width="1.1"/>
<text x="469.30" y="143.35" font-size="5.1" text-anchor="end" font-weight="bold" fill="#222"  stroke="#222" stroke-width="0.18">2.5</text>
<rect x="476.00" y="187.00" width="12.60" height="30.30" fill="#80007f" stroke="#5a0058" stroke-width="0.5"/>
<line x1="482.30" y1="217.30" x2="482.30" y2="220.10" stroke="#000" stroke-width="1.1"/>
<text x="482.30" y="225.70" font-size="5.1" text-anchor="middle" font-weight="bold" fill="#222"  stroke="#222" stroke-width="0.18">5.5</text>
<rect x="495.00" y="184.88" width="12.60" height="32.42" fill="#f54cd6" stroke="#b03a9a" stroke-width="0.5"/>
<line x1="501.30" y1="182.15" x2="501.30" y2="187.61" stroke="#2a2a2a" stroke-width="0.75"/>
<line x1="498.00" y1="182.15" x2="504.60" y2="182.15" stroke="#2a2a2a" stroke-width="0.75"/>
<line x1="498.00" y1="187.61" x2="504.60" y2="187.61" stroke="#2a2a2a" stroke-width="0.75"/>
<line x1="501.30" y1="217.30" x2="501.30" y2="220.10" stroke="#000" stroke-width="1.1"/>
<text x="501.30" y="225.70" font-size="5.1" text-anchor="middle" font-weight="bold" fill="#222"  stroke="#222" stroke-width="0.18">10</text>
<rect x="514.30" y="177.00" width="12.60" height="40.30" fill="#8c8cff" stroke="#6a6acc" stroke-width="0.5"/>
<line x1="520.60" y1="173.97" x2="520.60" y2="180.03" stroke="#2a2a2a" stroke-width="0.75"/>
<line x1="517.30" y1="173.97" x2="523.90" y2="173.97" stroke="#2a2a2a" stroke-width="0.75"/>
<line x1="517.30" y1="180.03" x2="523.90" y2="180.03" stroke="#2a2a2a" stroke-width="0.75"/>
<text x="520.60" y="172.87" font-size="8.6" text-anchor="middle" font-weight="bold" fill="#111"  stroke="#111" stroke-width="0.18">*</text>
<line x1="520.60" y1="217.30" x2="520.60" y2="220.10" stroke="#000" stroke-width="1.1"/>
<text x="520.60" y="225.70" font-size="5.1" text-anchor="middle" font-weight="bold" fill="#222"  stroke="#222" stroke-width="0.18">25</text>
<rect x="533.10" y="167.31" width="12.60" height="50.00" fill="#ff0000" stroke="#c00000" stroke-width="0.5"/>
<line x1="539.40" y1="166.49" x2="539.40" y2="168.12" stroke="#2a2a2a" stroke-width="0.75"/>
<line x1="536.10" y1="166.49" x2="542.70" y2="166.49" stroke="#2a2a2a" stroke-width="0.75"/>
<line x1="536.10" y1="168.12" x2="542.70" y2="168.12" stroke="#2a2a2a" stroke-width="0.75"/>
<text x="539.40" y="165.39" font-size="8.6" text-anchor="middle" font-weight="bold" fill="#111"  stroke="#111" stroke-width="0.18">**</text>
<line x1="539.40" y1="217.30" x2="539.40" y2="220.10" stroke="#000" stroke-width="1.1"/>
<text x="539.40" y="225.70" font-size="5.1" text-anchor="middle" font-weight="bold" fill="#222"  stroke="#222" stroke-width="0.18">40</text>
<line x1="472.50" y1="217.30" x2="548.80" y2="217.30" stroke="#000" stroke-width="1.4"/>
<text x="511.00" y="147.10" font-size="6.9" text-anchor="middle" font-weight="bold" fill="#111"  stroke="#111" stroke-width="0.18">P21</text>
<text x="511.00" y="236.50" font-size="5.85" text-anchor="middle" font-weight="bold" fill="#222"  stroke="#222" stroke-width="0.18">Glucose conc. (mM)</text>
<text x="0" y="0" font-size="6.45" font-weight="bold" fill="#222" stroke="#222" stroke-width="0.18" text-anchor="middle" transform="translate(454.30,182.40) rotate(-90)">Relative protein expression</text>
<line x1="602.80" y1="140.80" x2="602.80" y2="218.50" stroke="#000" stroke-width="1.3"/>
<line x1="599.60" y1="217.80" x2="602.80" y2="217.80" stroke="#000" stroke-width="1.1"/>
<text x="599.00" y="219.60" font-size="5.1" text-anchor="end" font-weight="bold" fill="#222"  stroke="#222" stroke-width="0.18">0.0</text>
<line x1="599.60" y1="202.50" x2="602.80" y2="202.50" stroke="#000" stroke-width="1.1"/>
<text x="599.00" y="204.30" font-size="5.1" text-anchor="end" font-weight="bold" fill="#222"  stroke="#222" stroke-width="0.18">0.5</text>
<line x1="599.60" y1="187.20" x2="602.80" y2="187.20" stroke="#000" stroke-width="1.1"/>
<text x="599.00" y="189.00" font-size="5.1" text-anchor="end" font-weight="bold" fill="#222"  stroke="#222" stroke-width="0.18">1.0</text>
<line x1="599.60" y1="171.90" x2="602.80" y2="171.90" stroke="#000" stroke-width="1.1"/>
<text x="599.00" y="173.70" font-size="5.1" text-anchor="end" font-weight="bold" fill="#222"  stroke="#222" stroke-width="0.18">1.5</text>
<line x1="599.60" y1="156.60" x2="602.80" y2="156.60" stroke="#000" stroke-width="1.1"/>
<text x="599.00" y="158.40" font-size="5.1" text-anchor="end" font-weight="bold" fill="#222"  stroke="#222" stroke-width="0.18">2.0</text>
<line x1="599.60" y1="141.30" x2="602.80" y2="141.30" stroke="#000" stroke-width="1.1"/>
<text x="599.00" y="143.10" font-size="5.1" text-anchor="end" font-weight="bold" fill="#222"  stroke="#222" stroke-width="0.18">2.5</text>
<rect x="606.00" y="187.20" width="12.70" height="30.60" fill="#80007f" stroke="#5a0058" stroke-width="0.5"/>
<line x1="612.35" y1="217.80" x2="612.35" y2="220.60" stroke="#000" stroke-width="1.1"/>
<text x="612.35" y="226.10" font-size="5.1" text-anchor="middle" font-weight="bold" fill="#222"  stroke="#222" stroke-width="0.18">5.5</text>
<rect x="625.00" y="181.69" width="12.70" height="36.11" fill="#f54cd6" stroke="#b03a9a" stroke-width="0.5"/>
<line x1="631.35" y1="180.47" x2="631.35" y2="182.92" stroke="#2a2a2a" stroke-width="0.75"/>
<line x1="628.05" y1="180.47" x2="634.65" y2="180.47" stroke="#2a2a2a" stroke-width="0.75"/>
<line x1="628.05" y1="182.92" x2="634.65" y2="182.92" stroke="#2a2a2a" stroke-width="0.75"/>
<line x1="631.35" y1="217.80" x2="631.35" y2="220.60" stroke="#000" stroke-width="1.1"/>
<text x="631.35" y="226.10" font-size="5.1" text-anchor="middle" font-weight="bold" fill="#222"  stroke="#222" stroke-width="0.18">10</text>
<rect x="644.20" y="175.57" width="12.70" height="42.23" fill="#8c8cff" stroke="#6a6acc" stroke-width="0.5"/>
<line x1="650.55" y1="174.35" x2="650.55" y2="176.80" stroke="#2a2a2a" stroke-width="0.75"/>
<line x1="647.25" y1="174.35" x2="653.85" y2="174.35" stroke="#2a2a2a" stroke-width="0.75"/>
<line x1="647.25" y1="176.80" x2="653.85" y2="176.80" stroke="#2a2a2a" stroke-width="0.75"/>
<text x="650.55" y="172.75" font-size="8.6" text-anchor="middle" font-weight="bold" fill="#111"  stroke="#111" stroke-width="0.18">*</text>
<line x1="650.55" y1="217.80" x2="650.55" y2="220.60" stroke="#000" stroke-width="1.1"/>
<text x="650.55" y="226.10" font-size="5.1" text-anchor="middle" font-weight="bold" fill="#222"  stroke="#222" stroke-width="0.18">25</text>
<rect x="663.10" y="161.80" width="12.70" height="56.00" fill="#ff0000" stroke="#c00000" stroke-width="0.5"/>
<line x1="669.45" y1="156.91" x2="669.45" y2="166.70" stroke="#2a2a2a" stroke-width="0.75"/>
<line x1="666.15" y1="156.91" x2="672.75" y2="156.91" stroke="#2a2a2a" stroke-width="0.75"/>
<line x1="666.15" y1="166.70" x2="672.75" y2="166.70" stroke="#2a2a2a" stroke-width="0.75"/>
<text x="669.45" y="155.31" font-size="8.6" text-anchor="middle" font-weight="bold" fill="#111"  stroke="#111" stroke-width="0.18">**</text>
<line x1="669.45" y1="217.80" x2="669.45" y2="220.60" stroke="#000" stroke-width="1.1"/>
<text x="669.45" y="226.10" font-size="5.1" text-anchor="middle" font-weight="bold" fill="#222"  stroke="#222" stroke-width="0.18">40</text>
<line x1="602.20" y1="217.80" x2="679.50" y2="217.80" stroke="#000" stroke-width="1.4"/>
<text x="638.50" y="146.40" font-size="6.9" text-anchor="middle" font-weight="bold" fill="#111"  stroke="#111" stroke-width="0.18">P53</text>
<text x="641.00" y="237.00" font-size="5.85" text-anchor="middle" font-weight="bold" fill="#222"  stroke="#222" stroke-width="0.18">Glucose conc. (mM)</text>
<text x="0" y="0" font-size="6.45" font-weight="bold" fill="#222" stroke="#222" stroke-width="0.18" text-anchor="middle" transform="translate(584.30,181.10) rotate(-90)">Relative protein expression</text>
</g>
</svg>
</body></html>
